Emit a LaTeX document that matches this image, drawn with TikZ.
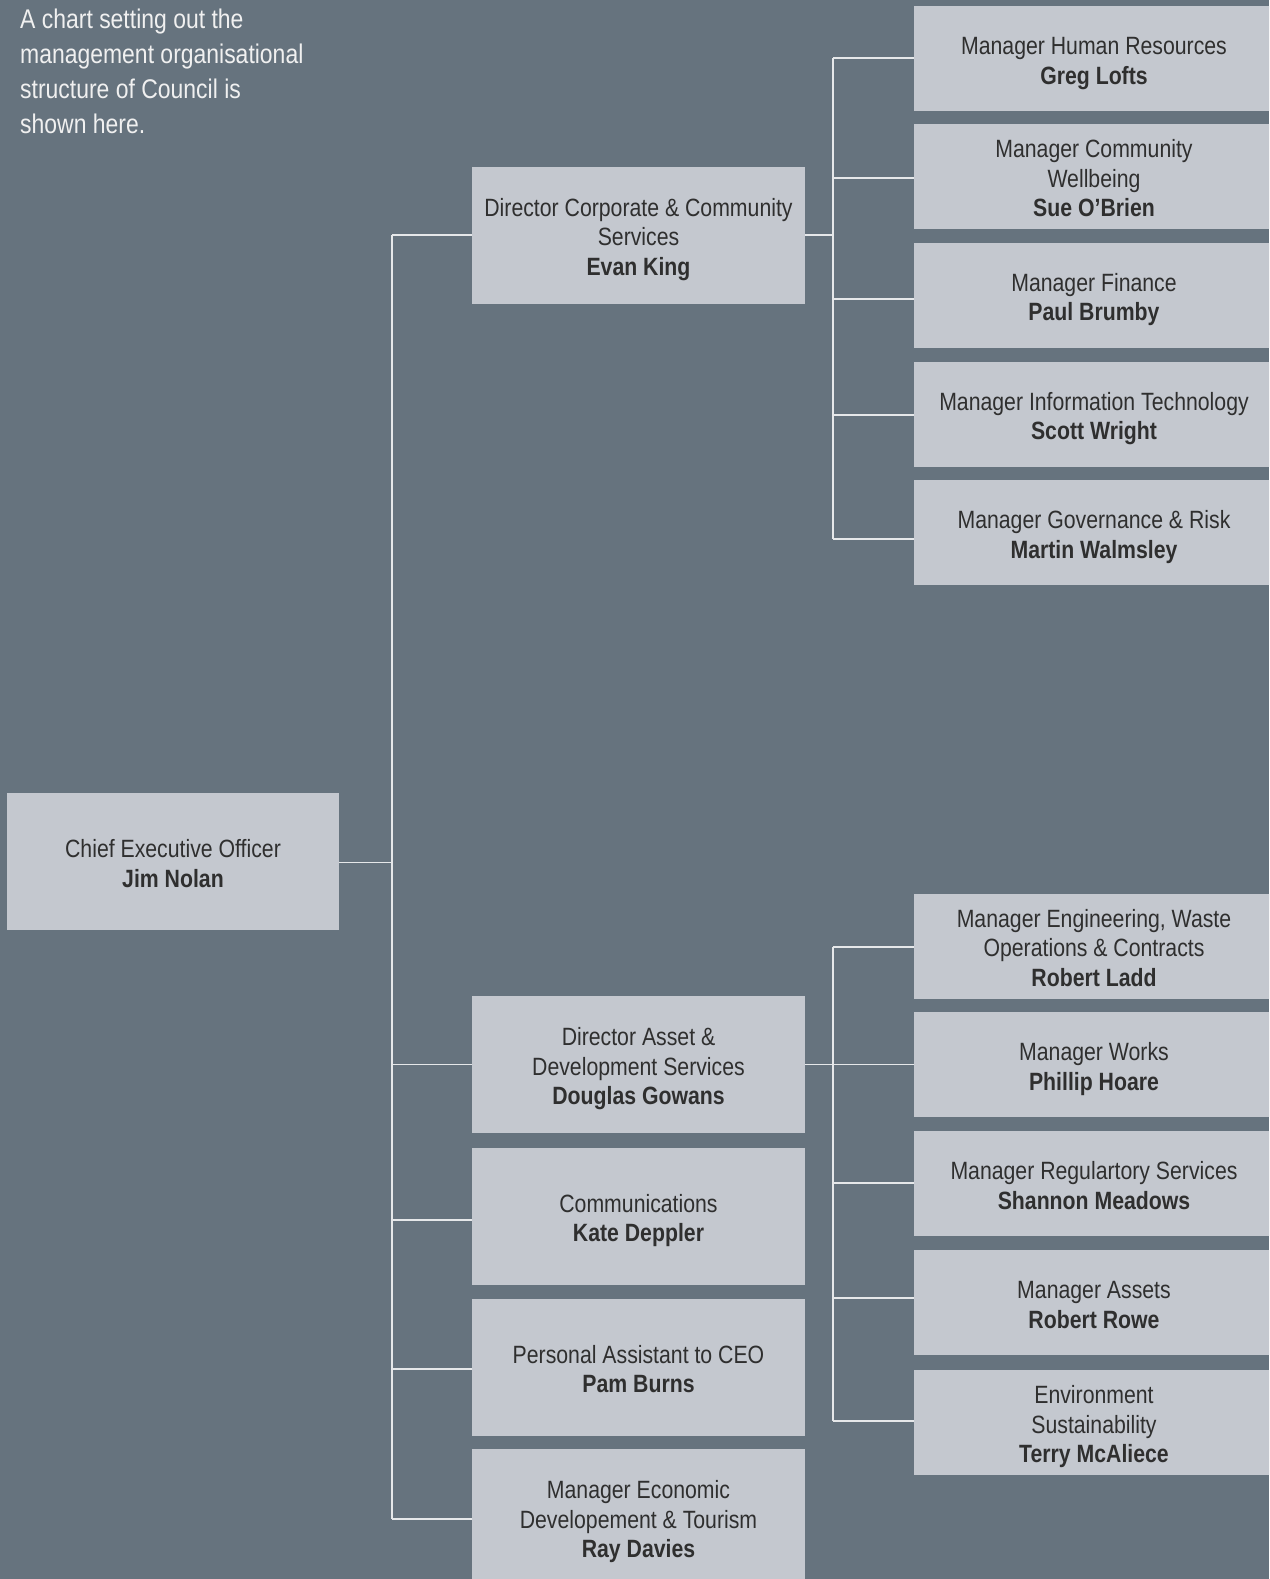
\documentclass[tikz,border=0pt]{standalone}
\usepackage{fontspec}
\setmainfont[FakeStretch=0.85]{Liberation Sans}
\definecolor{bgc}{HTML}{66737E}
\definecolor{boxc}{HTML}{C4C8CF}
\definecolor{txtc}{HTML}{2F2F2F}
\definecolor{linec}{HTML}{E6E8EA}
\newcommand\boxtext[1]{\raisebox{-5pt}[\height][\depth]{\begin{tabular}{@{}c@{}}#1\end{tabular}}}
\tikzset{
  orgbox/.style={fill=boxc, inner sep=0pt, text=txtc,
    font=\fontsize{25}{29.5}\selectfont},
  ceobox/.style={orgbox, minimum width=332pt, minimum height=137pt},
  dirbox/.style={orgbox, minimum width=333pt, minimum height=137pt},
  mgrbox/.style={orgbox, minimum width=360pt, minimum height=105pt},
  link/.style={draw=linec, line width=1.6pt}
}
\begin{document}
\begin{tikzpicture}[x=1pt,y=-1pt]
\fill[bgc] (0,0) rectangle (1269,1579);
\useasboundingbox (0,0) rectangle (1269,1579);
\clip (0,0) rectangle (1269,1579);

\node[anchor=north west, inner sep=0pt, align=left, text=white!94!black,
  font=\fontsize{27}{35}\selectfont] (intro) at (20,9)
  {A chart setting out the\\management organisational\\structure of Council is\\shown here.};

\node[ceobox] (ceo) at (173,861.5) {\boxtext{Chief Executive Officer\\\textbf{Jim Nolan}}};

\node[dirbox] (dcorp) at (638.5,235) {\boxtext{Director Corporate \& Community\\Services\\\textbf{Evan King}}};
\node[dirbox] (dasset) at (638.5,1064.5) {\boxtext{Director Asset \&\\Development Services\\\textbf{Douglas Gowans}}};
\node[dirbox] (comm) at (638.5,1216) {\boxtext{Communications\\\textbf{Kate Deppler}}};
\node[dirbox] (pa) at (638.5,1367) {\boxtext{Personal Assistant to CEO\\\textbf{Pam Burns}}};
\node[dirbox] (eco) at (638.5,1517.5) {\boxtext{Manager Economic\\Developement \& Tourism\\\textbf{Ray Davies}}};

\node[mgrbox] (hr) at (1094,58.5) {\boxtext{Manager Human Resources\\\textbf{Greg Lofts}}};
\node[mgrbox] (cw) at (1094,176.5) {\boxtext{Manager Community\\Wellbeing\\\textbf{Sue O’Brien}}};
\node[mgrbox] (fin) at (1094,295) {\boxtext{Manager Finance\\\textbf{Paul Brumby}}};
\node[mgrbox] (it) at (1094,414) {\boxtext{Manager Information Technology\\\textbf{Scott Wright}}};
\node[mgrbox] (gov) at (1094,532.5) {\boxtext{Manager Governance \& Risk\\\textbf{Martin Walmsley}}};

\node[mgrbox] (eng) at (1094,946) {\boxtext{Manager Engineering, Waste\\Operations \& Contracts\\\textbf{Robert Ladd}}};
\node[mgrbox] (works) at (1094,1064.5) {\boxtext{Manager Works\\\textbf{Phillip Hoare}}};
\node[mgrbox] (reg) at (1094,1183.5) {\boxtext{Manager Regulartory Services\\\textbf{Shannon Meadows}}};
\node[mgrbox] (assets) at (1094,1302.5) {\boxtext{Manager Assets\\\textbf{Robert Rowe}}};
\node[mgrbox] (env) at (1094,1422.5) {\boxtext{Environment\\Sustainability\\\textbf{Terry McAliece}}};

% level 1 bus
\coordinate (b1) at (392,0);
\draw[link] ([yshift=-1pt]ceo.east) -- ([yshift=-1pt]ceo.east -| b1);
\draw[link] (dcorp.west -| b1) -- (dcorp.west);
\draw[link] (dcorp.west -| b1) -- ([yshift=-1.5pt]eco.west -| b1);
\draw[link] (dasset.west -| b1) -- (dasset.west);
\draw[link] ([yshift=-4pt]comm.west -| b1) -- ([yshift=-4pt]comm.west);
\draw[link] ([yshift=-2pt]pa.west -| b1) -- ([yshift=-2pt]pa.west);
\draw[link] ([yshift=-1.5pt]eco.west -| b1) -- ([yshift=-1.5pt]eco.west);

% corporate managers bus
\coordinate (b2) at (833,0);
\draw[link] (dcorp.east) -- (dcorp.east -| b2);
\draw[link] ([yshift=0.5pt]hr.west -| b2) -- ([yshift=-6.5pt]gov.west -| b2);
\draw[link] ([yshift=0.5pt]hr.west -| b2) -- ([yshift=0.5pt]hr.west);
\draw[link] ([yshift=-1.5pt]cw.west -| b2) -- ([yshift=-1.5pt]cw.west);
\draw[link] ([yshift=-4pt]fin.west -| b2) -- ([yshift=-4pt]fin.west);
\draw[link] ([yshift=-1pt]it.west -| b2) -- ([yshift=-1pt]it.west);
\draw[link] ([yshift=-6.5pt]gov.west -| b2) -- ([yshift=-6.5pt]gov.west);

% asset managers bus
\draw[link] (dasset.east) -- (works.west);
\draw[link] ([yshift=-1pt]eng.west -| b2) -- ([yshift=1.5pt]env.west -| b2);
\draw[link] ([yshift=-1pt]eng.west -| b2) -- ([yshift=-1pt]eng.west);
\draw[link] ([yshift=0.5pt]reg.west -| b2) -- ([yshift=0.5pt]reg.west);
\draw[link] ([yshift=4.5pt]assets.west -| b2) -- ([yshift=4.5pt]assets.west);
\draw[link] ([yshift=1.5pt]env.west -| b2) -- ([yshift=1.5pt]env.west);
\end{tikzpicture}
\end{document}
